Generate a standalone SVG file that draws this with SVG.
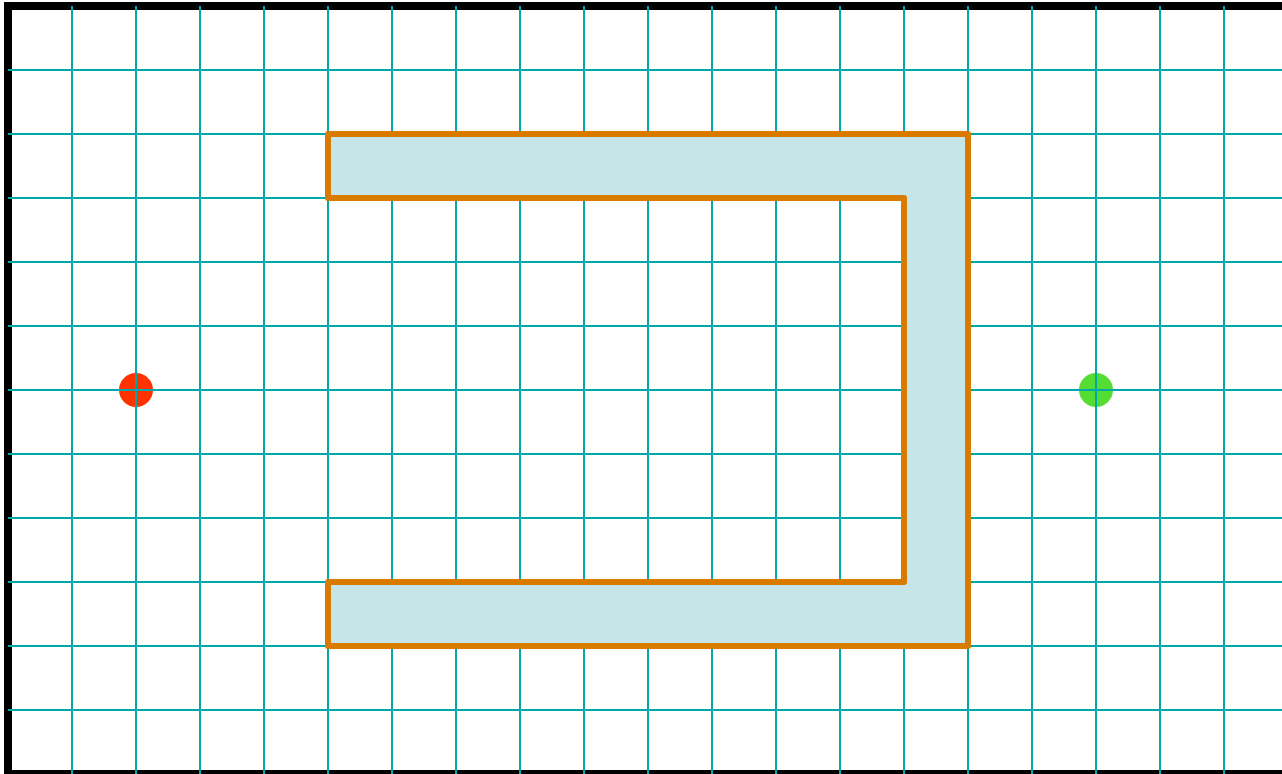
<svg xmlns="http://www.w3.org/2000/svg" width="1282" height="774" viewBox="0 0 1282 774">
<style>
.grid line{stroke:#00A8AC;stroke-width:2}
.wall{fill:#C5E5E8;stroke:#D97B00;stroke-width:6;stroke-linejoin:round}
</style>
<rect x="0" y="0" width="1282" height="774" fill="#fff"/>
<rect x="8" y="6" width="1290" height="768" fill="none" stroke="#000" stroke-width="8"/>
<g class="grid">
<line x1="72" y1="6" x2="72" y2="774"/><line x1="136" y1="6" x2="136" y2="774"/><line x1="200" y1="6" x2="200" y2="774"/><line x1="264" y1="6" x2="264" y2="774"/><line x1="328" y1="6" x2="328" y2="774"/><line x1="392" y1="6" x2="392" y2="774"/><line x1="456" y1="6" x2="456" y2="774"/><line x1="520" y1="6" x2="520" y2="774"/><line x1="584" y1="6" x2="584" y2="774"/><line x1="648" y1="6" x2="648" y2="774"/><line x1="712" y1="6" x2="712" y2="774"/><line x1="776" y1="6" x2="776" y2="774"/><line x1="840" y1="6" x2="840" y2="774"/><line x1="904" y1="6" x2="904" y2="774"/><line x1="968" y1="6" x2="968" y2="774"/><line x1="1032" y1="6" x2="1032" y2="774"/><line x1="1096" y1="6" x2="1096" y2="774"/><line x1="1160" y1="6" x2="1160" y2="774"/><line x1="1224" y1="6" x2="1224" y2="774"/>
<line x1="8" y1="70" x2="1282" y2="70"/><line x1="8" y1="134" x2="1282" y2="134"/><line x1="8" y1="198" x2="1282" y2="198"/><line x1="8" y1="262" x2="1282" y2="262"/><line x1="8" y1="326" x2="1282" y2="326"/><line x1="8" y1="390" x2="1282" y2="390"/><line x1="8" y1="454" x2="1282" y2="454"/><line x1="8" y1="518" x2="1282" y2="518"/><line x1="8" y1="582" x2="1282" y2="582"/><line x1="8" y1="646" x2="1282" y2="646"/><line x1="8" y1="710" x2="1282" y2="710"/>
</g>
<g id="wall">
<polygon class="wall" points="328,134 968,134 968,646 328,646 328,582 904,582 904,198 328,198"/>
</g>
<g id="start">
<circle cx="136" cy="390" r="17" fill="#FF3300"/>
<line x1="119" y1="390" x2="153" y2="390" stroke="#00A8AC" stroke-width="2"/>
<line x1="136" y1="373" x2="136" y2="407" stroke="#00A8AC" stroke-width="2"/>
</g>
<g id="goal">
<circle cx="1096" cy="390" r="17" fill="#55DD33"/>
<line x1="1079" y1="390" x2="1113" y2="390" stroke="#00A8AC" stroke-width="2"/>
<line x1="1096" y1="373" x2="1096" y2="407" stroke="#00A8AC" stroke-width="2"/>
</g>
</svg>
